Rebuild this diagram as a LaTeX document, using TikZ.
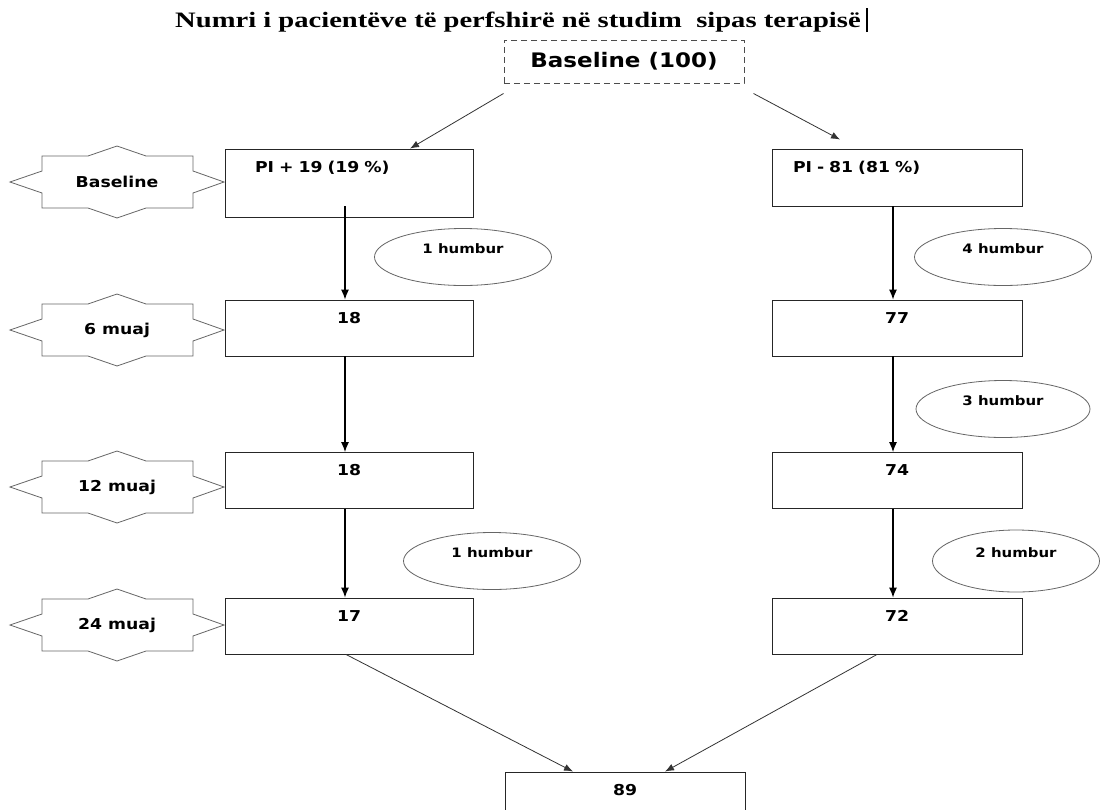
\documentclass[tikz,border=0pt]{standalone}
\usepackage{fontspec}
\setmainfont{Liberation Serif}
\setsansfont{DejaVu Sans}[FakeStretch=1.15]
\newfontfamily\headfont{Liberation Serif}[FakeStretch=1.3]
\usetikzlibrary{shapes.geometric, positioning, arrows.meta}

% star shaped time label: name, y, text
\newcommand{\monthstar}[3]{%
  \draw[starline] (10,#2) -- (42,#2-11) -- (42,#2-26) -- (88,#2-26) -- (117,#2-36)
    -- (146,#2-26) -- (193,#2-26) -- (193,#2-11) -- (224,#2) -- (193,#2+11)
    -- (193,#2+26) -- (146,#2+26) -- (117,#2+36) -- (88,#2+26) -- (42,#2+26)
    -- (42,#2+11) -- cycle;
  \node[startext] (#1) at (117,#2) {#3};
}

\begin{document}
\begin{tikzpicture}[x=1pt,y=-1pt,
  box/.style={draw=black!85, line width=0.9pt, minimum width=248, minimum height=56,
    inner sep=0, text height=23pt, text depth=33pt,
    font=\sffamily\bfseries\fontsize{15}{18}\selectfont},
  lost/.style={draw=black!60, ellipse, line width=0.8pt, inner sep=0,
    minimum width=177, minimum height=57, text height=10pt, text depth=17pt,
    font=\sffamily\bfseries\fontsize{13}{15}\selectfont},
  starline/.style={draw=black!60, line width=0.8pt},
  startext/.style={font=\sffamily\bfseries\fontsize{15}{18}\selectfont},
  flow/.style={-{Latex[length=10pt,width=8pt]}, line width=1.1pt},
  thin flow/.style={-{Latex[length=9pt,width=7pt]}, line width=0.8pt, black!80}]

\clip (0,0) rectangle (1100,809);
\fill[white] (0,0) rectangle (1100,809);

\node[anchor=base west, inner sep=0, font=\headfont\bfseries\fontsize{22}{26}\selectfont]
  (title) at (175,27) {Numri i pacientëve të perfshirë në studim\ \ sipas terapisë};
\draw[line width=1.8pt] ([xshift=6pt,yshift=-5pt]title.base east) -- ++(0,-24);

\node[draw=black!70, dashed, line width=1pt, dash pattern=on 6pt off 4pt,
  minimum width=240, minimum height=43,
  font=\sffamily\bfseries\fontsize{20}{24}\selectfont] (base) at (624,61.5) {Baseline (100)};

% left column
\node[box, minimum height=68, text depth=45pt, text width=188, align=left] (pip) at (349,183) {PI + 19 (19 \%)};
\node[box] (l6) at (349,328) {18};
\node[box] (l12) at (349,480.5) {18};
\node[box] (l24) at (349,626) {17};

% right column
\node[box, minimum width=250, minimum height=57, text depth=34pt, text width=208, align=left] (pim) at (897,177.5) {PI - 81 (81 \%)};
\node[box, minimum width=250] (r6) at (897,328) {77};
\node[box, minimum width=250] (r12) at (897,480.5) {74};
\node[box, minimum width=250] (r24) at (897,626) {72};

\node[box, minimum width=240, minimum height=60, text depth=37pt] (tot) at (625,802) {89};

% lost to follow up
\node[lost] (lostA) at (463,257) {1 humbur};
\node[lost] (lostB) at (492,561) {1 humbur};
\node[lost] (lostC) at (1003,257) {4 humbur};
\node[lost, minimum width=174] (lostD) at (1003,409) {3 humbur};
\node[lost, minimum width=167, minimum height=62] (lostE) at (1016,561) {2 humbur};

\monthstar{tb}{182}{Baseline}
\monthstar{t6}{330}{6 muaj}
\monthstar{t12}{487}{12 muaj}
\monthstar{t24}{625}{24 muaj}

\draw[thin flow] ([yshift=-10pt]base.south west) -- ([xshift=61pt]pip.north);
\draw[thin flow] ([xshift=9pt,yshift=-10pt]base.south east) -- ([xshift=-57pt,yshift=9pt]pim.north);

\draw[flow] ([xshift=-4pt,yshift=11pt]pip.south) -- ([xshift=-4pt]l6.north);
\draw[flow] ([xshift=-4pt]l6.south) -- ([xshift=-4pt]l12.north);
\draw[flow] ([xshift=-4pt]l12.south) -- ([xshift=-4pt]l24.north);
\draw[flow] ([xshift=-4pt]pim.south) -- ([xshift=-4pt]r6.north);
\draw[flow] ([xshift=-4pt]r6.south) -- ([xshift=-4pt]r12.north);
\draw[flow] ([xshift=-4pt]r12.south) -- ([xshift=-4pt]r24.north);

\draw[thin flow] ([xshift=-3pt]l24.south) -- ([xshift=-52pt]tot.north);
\draw[thin flow] ([xshift=-20pt]r24.south) -- ([xshift=40pt]tot.north);
\end{tikzpicture}
\end{document}
